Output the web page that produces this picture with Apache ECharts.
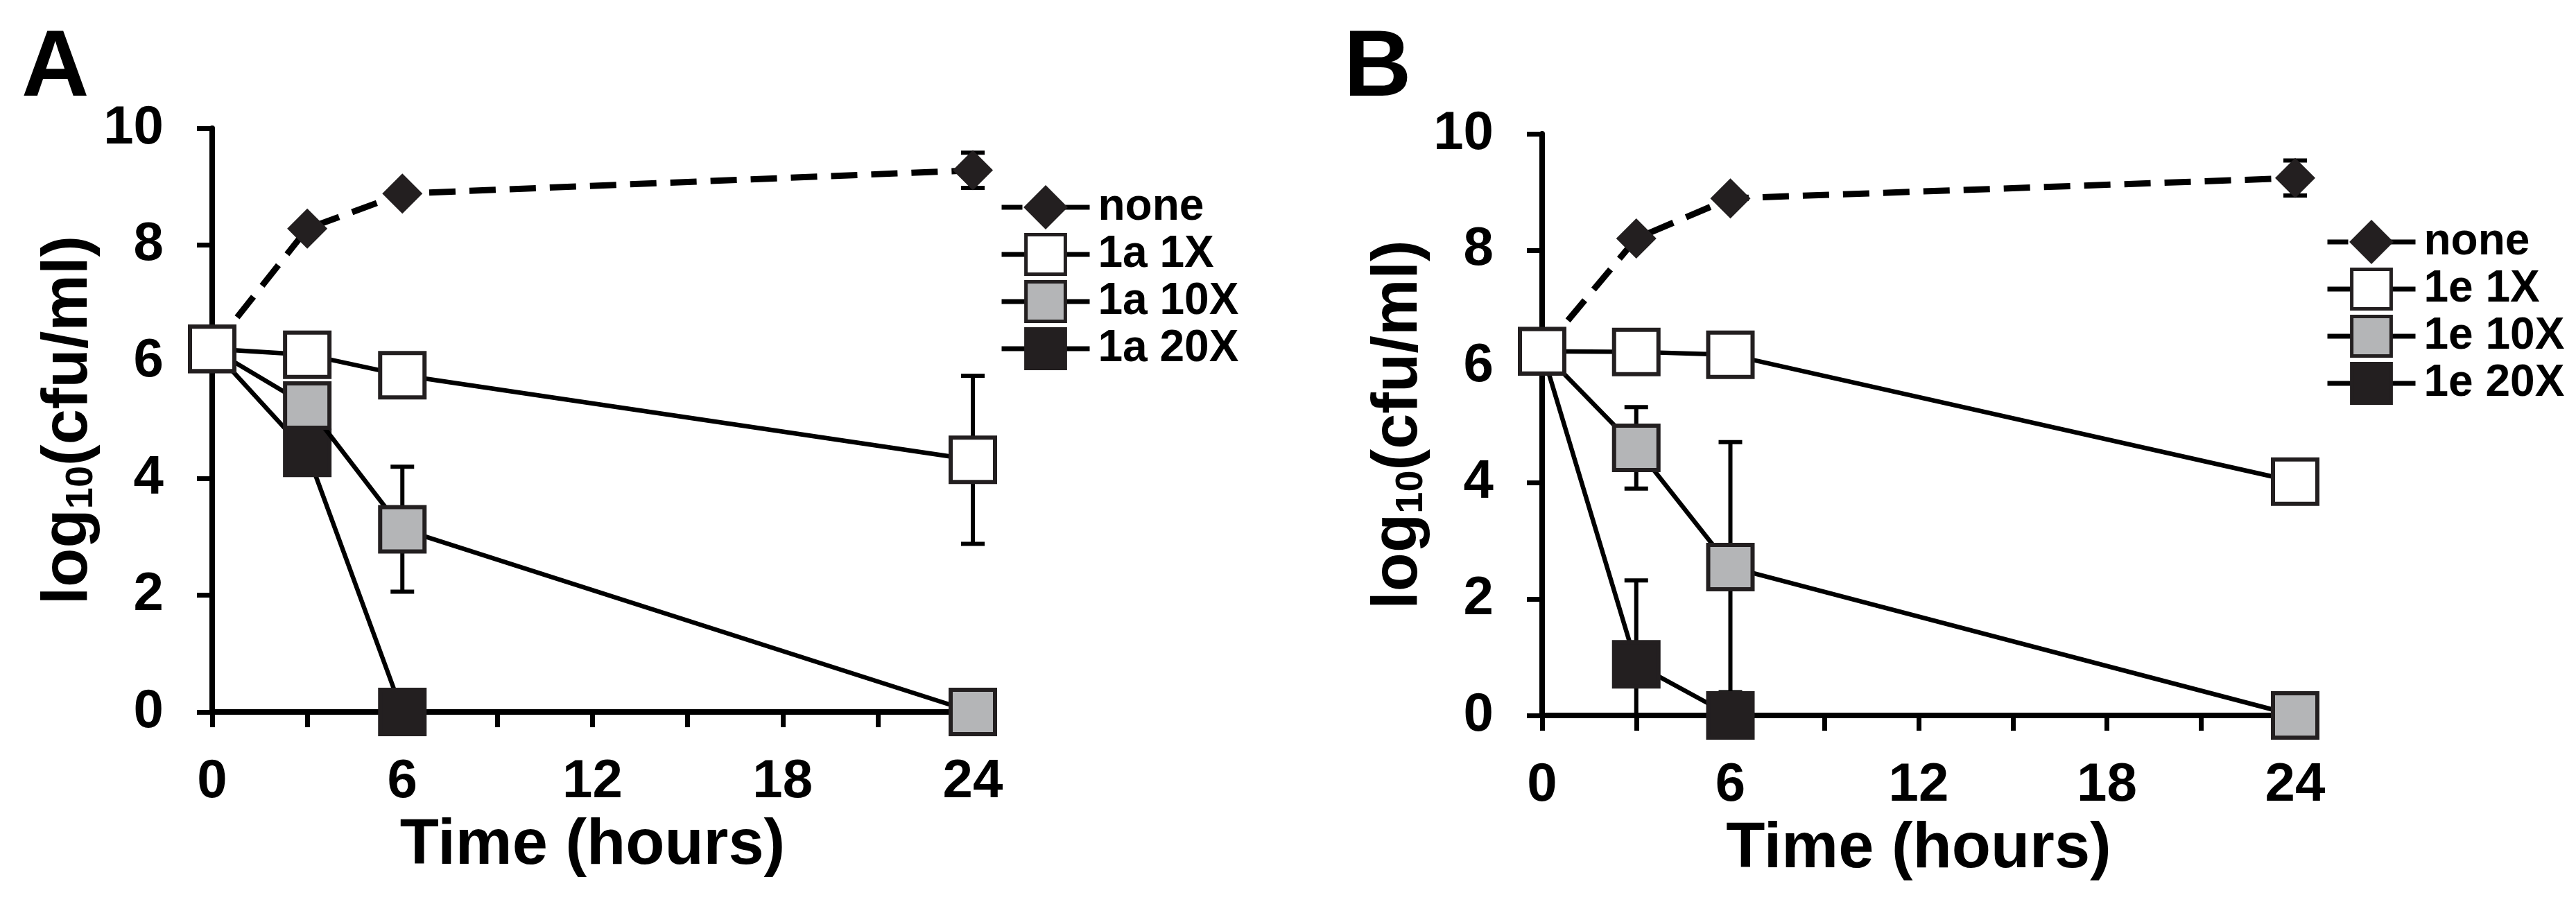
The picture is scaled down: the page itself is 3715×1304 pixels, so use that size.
<!DOCTYPE html>
<html>
<head>
<meta charset="utf-8">
<title>log10(cfu/ml) vs time</title>
<script src="https://cdn.jsdelivr.net/npm/echarts@6/dist/echarts.min.js"></script>
<style>
	html, body { margin: 0; padding: 0; background: #fff; }
	#chart { width: 3715px; height: 1304px; }
</style>
</head>
<body>
<div id="chart"></div>
<script>
// time points (hours)
const hours = [0, 3, 6, 24]
const xTicks = [0, 6, 12, 18, 24]

// panel A, log10(cfu/ml)
const aNone = [6.22, 8.28, 8.88, 9.28]
const a1x = [6.22, 6.12, 5.77, 4.32]
const a10x = [6.22, 5.25, 3.13, 0]
const a20x = [6.22, 4.44, 0, null]
// panel A, error (sd)
const aNoneErr = [0, 0, 0, 0.3]
const a1xErr = [0, 0, 0, 1.44]
const a10xErr = [0, 0, 1.07, 0]
const a20xErr = [0, 0, 0, 0]

// panel B
const bNone = [6.26, 8.2, 8.89, 9.24]
const b1x = [6.26, 6.25, 6.2, 4.02]
const b10x = [6.26, 4.6, 2.55, 0]
const b20x = [6.26, 0.88, 0, null]
const bNoneErr = [0, 0, 0, 0.3]
const b1xErr = [0, 0, 0, 0]
const b10xErr = [0, 0.7, 2.15, 0]
const b20xErr = [0, 1.44, 0, 0]

const namesA = ['none', '1a 1X', '1a 10X', '1a 20X']
const namesB = ['none', '1e 1X', '1e 10X', '1e 20X']

const font = "'Liberation Sans', Arial, Helvetica, sans-serif"
const ink = '#000'
const edge = '#231f20'
const fills = ['#231f20', '#ffffff', '#b4b5b7', '#231f20']

function pairs(ys) {
	const out = []
	for (let i = 0; i < hours.length; i++) {
		out.push([hours[i], ys[i]])
	}
	return out
}

function errData(ys, es) {
	const out = []
	for (let i = 0; i < hours.length; i++) {
		if (ys[i] != null && es[i] > 0) out.push([hours[i], ys[i], es[i]])
	}
	return out
}

function errBars(p, api) {
	const x = api.value(0)
	const m = api.value(1)
	const e = api.value(2)
	const lo = Math.max(0, m - e)
	const top = api.coord([x, m + e])
	const bot = api.coord([x, lo])
	const w = 17
	const st = { stroke: ink, lineWidth: 6 }
	const kids = [
		{ type: 'line', shape: { x1: top[0], y1: top[1], x2: bot[0], y2: bot[1] }, style: st },
		{ type: 'line', shape: { x1: top[0] - w, y1: top[1], x2: top[0] + w, y2: top[1] }, style: st }
	]
	if (m - e >= 0) {
		kids.push({ type: 'line', shape: { x1: bot[0] - w, y1: bot[1], x2: bot[0] + w, y2: bot[1] }, style: st })
	}
	return { type: 'group', children: kids }
}

function lineSeries(name, ys, k, gi) {
	const isNone = k === 0
	return {
		name: name,
		type: 'line',
		xAxisIndex: gi,
		yAxisIndex: gi,
		data: pairs(ys),
		clip: false,
		z: [2, 5, 4, 3][k],
		symbol: isNone ? 'diamond' : 'rect',
		symbolSize: isNone ? 58 : 64,
		showAllSymbol: true,
		itemStyle: {
			color: fills[k],
			borderColor: edge,
			borderWidth: isNone ? 0 : 6,
			opacity: 1
		},
		lineStyle: isNone
			? { color: ink, width: 9, type: [38, 20] }
			: { color: ink, width: 6.5 },
		emphasis: { disabled: true }
	}
}

function errSeries(ys, es, gi) {
	return {
		type: 'custom',
		xAxisIndex: gi,
		yAxisIndex: gi,
		z: 1,
		clip: false,
		silent: true,
		renderItem: errBars,
		data: errData(ys, es)
	}
}

function xAx(gi) {
	return {
		gridIndex: gi,
		type: 'value',
		min: 0,
		max: 24,
		interval: 3,
		splitLine: { show: false },
		axisLine: { show: true, onZero: false, lineStyle: { color: ink, width: 8 } },
		axisTick: { show: true, length: 22, lineStyle: { color: ink, width: 7 } },
		axisLabel: {
			margin: 62,
			color: ink,
			fontSize: 78,
			fontWeight: 'bold',
			fontFamily: font,
			formatter: function(v) { return xTicks.indexOf(v) >= 0 ? String(v) : '' }
		},
		name: 'Time (hours)',
		nameLocation: 'middle',
		nameGap: 148,
		nameTextStyle: { color: ink, fontSize: 92, fontWeight: 'bold', fontFamily: font }
	}
}

function yAx(gi) {
	return {
		gridIndex: gi,
		type: 'value',
		min: 0,
		max: 10,
		interval: 2,
		splitLine: { show: false },
		axisLine: { show: true, onZero: false, lineStyle: { color: ink, width: 8 } },
		axisTick: { show: true, length: 22, lineStyle: { color: ink, width: 7 } },
		axisLabel: { margin: 70, color: ink, fontSize: 78, fontWeight: 'bold', fontFamily: font },
		name: '{m|log}{s|10}{m|(cfu/ml)}',
		nameLocation: 'middle',
		nameRotate: 90,
		nameGap: 150,
		nameTextStyle: {
			color: ink,
			rich: {
				m: { fontSize: 92, lineHeight: 92, fontWeight: 'bold', fontFamily: font, color: ink },
				s: { fontSize: 56, lineHeight: 40, verticalAlign: 'bottom', fontWeight: 'bold', fontFamily: font, color: ink }
			}
		}
	}
}

function legendAt(names, left, top) {
	const items = names.map(function(n, i) {
		if (i === 0) {
			// short dash, gap, then the diamond and a solid stub
			return { name: n, lineStyle: { type: [30, 8, 100, 0], width: 7 } }
		}
		return { name: n }
	})
	return {
		data: items,
		orient: 'vertical',
		left: left,
		top: top,
		itemWidth: 127,
		itemHeight: 71,
		itemGap: 4,
		selectedMode: false,
		lineStyle: { width: 7 },
		itemStyle: { borderWidth: 5 },
		textStyle: { color: ink, fontSize: 64, fontWeight: 'bold', fontFamily: font, padding: [0, 0, 0, 7] }
	}
}

const chart = echarts.init(document.getElementById('chart'), null, { renderer: 'canvas' })

const option = {
	backgroundColor: '#fff',
	animation: false,
	title: [
		{ text: 'A', left: 26, top: 28, textStyle: { fontSize: 135, fontWeight: 'bold', fontFamily: font, color: ink } },
		{ text: 'B', left: 1933, top: 28, textStyle: { fontSize: 135, fontWeight: 'bold', fontFamily: font, color: ink } }
	],
	grid: [
		{ left: 306, top: 185, width: 1097, height: 842 },
		{ left: 2224, top: 193, width: 1086, height: 839 }
	],
	xAxis: [xAx(0), xAx(1)],
	yAxis: [yAx(0), yAx(1)],
	legend: [
		legendAt(namesA, 1436, 262),
		legendAt(namesB, 3348, 312)
	],
	series: [
		lineSeries(namesA[0], aNone, 0, 0),
		lineSeries(namesA[1], a1x, 1, 0),
		lineSeries(namesA[2], a10x, 2, 0),
		lineSeries(namesA[3], a20x, 3, 0),
		errSeries(aNone, aNoneErr, 0),
		errSeries(a1x, a1xErr, 0),
		errSeries(a10x, a10xErr, 0),
		errSeries(a20x, a20xErr, 0),

		lineSeries(namesB[0], bNone, 0, 1),
		lineSeries(namesB[1], b1x, 1, 1),
		lineSeries(namesB[2], b10x, 2, 1),
		lineSeries(namesB[3], b20x, 3, 1),
		errSeries(bNone, bNoneErr, 1),
		errSeries(b1x, b1xErr, 1),
		errSeries(b10x, b10xErr, 1),
		errSeries(b20x, b20xErr, 1)
	]
}

chart.setOption(option)
</script>
</body>
</html>
